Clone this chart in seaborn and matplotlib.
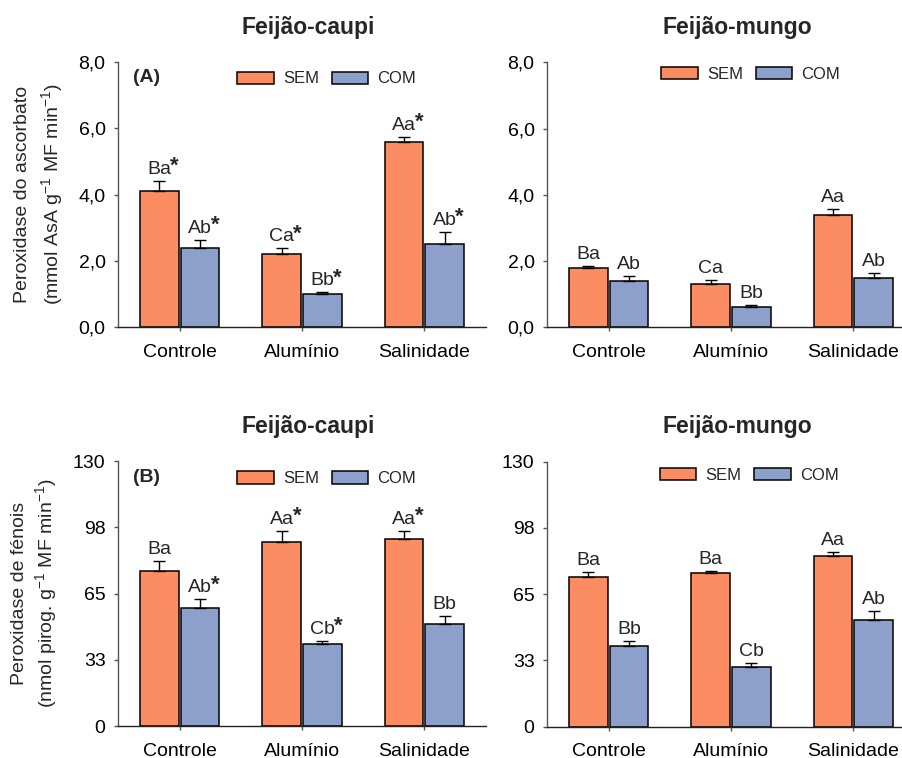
import matplotlib
matplotlib.use("Agg")
import matplotlib.pyplot as plt
from matplotlib.patches import Patch
import seaborn as sns
import pandas as pd

tratamentos = ["Controle", "Alumínio", "Salinidade"]
grupos = ["SEM", "COM"]

# (A) peroxidase do ascorbato - feijão-caupi
apx_caupi_sem = [4.1, 2.2, 5.6]
apx_caupi_com = [2.4, 1.0, 2.5]
apx_caupi_sem_ep = [0.32, 0.18, 0.14]
apx_caupi_com_ep = [0.23, 0.05, 0.37]
apx_caupi_sem_let = ["Ba*", "Ca*", "Aa*"]
apx_caupi_com_let = ["Ab*", "Bb*", "Ab*"]

# (A) peroxidase do ascorbato - feijão-mungo
apx_mungo_sem = [1.8, 1.3, 3.4]
apx_mungo_com = [1.4, 0.6, 1.5]
apx_mungo_sem_ep = [0.04, 0.14, 0.17]
apx_mungo_com_ep = [0.14, 0.07, 0.13]
apx_mungo_sem_let = ["Ba", "Ca", "Aa"]
apx_mungo_com_let = ["Ab", "Bb", "Ab"]

# (B) peroxidase de fenois - feijão-caupi
pox_caupi_sem = [76.1, 90.5, 92.0]
pox_caupi_com = [57.9, 40.2, 50.2]
pox_caupi_sem_ep = [5.0, 5.4, 3.9]
pox_caupi_com_ep = [4.4, 1.6, 3.9]
pox_caupi_sem_let = ["Ba", "Aa*", "Aa*"]
pox_caupi_com_let = ["Ab*", "Cb*", "Bb"]

# (B) peroxidase de fenois - feijão-mungo
pox_mungo_sem = [73.4, 75.6, 83.6]
pox_mungo_com = [39.6, 29.4, 52.3]
pox_mungo_sem_ep = [2.6, 1.0, 2.1]
pox_mungo_com_ep = [2.6, 1.8, 4.7]
pox_mungo_sem_let = ["Ba", "Ba", "Aa"]
pox_mungo_com_let = ["Bb", "Cb", "Ab"]

apx_ticks = [0, 2, 4, 6, 8]
apx_ticklabels = ["0,0", "2,0", "4,0", "6,0", "8,0"]
pox_ticks = [0, 32.5, 65, 97.5, 130]
pox_ticklabels = ["0", "33", "65", "98", "130"]

sns.set_style("ticks")
plt.rcParams.update({
    "font.family": ["Liberation Sans", "DejaVu Sans"],
    "mathtext.default": "regular",
    "axes.linewidth": 1.0,
})

pal = sns.color_palette("Set2")
cores = {"SEM": pal[1], "COM": pal[2]}


def painel(ax, sem, com, sem_ep, com_ep, sem_let, com_let, ticks, ticklabels,
           titulo, leg_pos):
    df = pd.DataFrame({
        "trat": tratamentos * 2,
        "grupo": ["SEM"] * 3 + ["COM"] * 3,
        "valor": sem + com,
    })
    sns.barplot(data=df, x="trat", y="valor", hue="grupo", order=tratamentos,
                hue_order=grupos, palette=cores, width=0.666, gap=0.055,
                errorbar=None, edgecolor="black", linewidth=1.1,
                saturation=1, legend=False, ax=ax)

    barras = sorted(ax.patches, key=lambda p: p.get_x())
    ep = [v for par in zip(sem_ep, com_ep) for v in par]
    let = [v for par in zip(sem_let, com_let) for v in par]
    for b, e, l in zip(barras, ep, let):
        x = b.get_x() + b.get_width() / 2
        h = b.get_height()
        ax.errorbar(x, h, yerr=[[0], [e]], fmt="none", ecolor="black",
                    elinewidth=1, capsize=4, capthick=1)
        t = ax.annotate(l.rstrip("*"), xy=(x, h + e), xytext=(0, 5),
                        textcoords="offset points", ha="center",
                        va="baseline", fontsize=14)
        if l.endswith("*"):
            # asterisco sobrescrito, colado a direita das letras
            ax.annotate("*", xy=(1, 1), xycoords=t, xytext=(-0.8, 3.5),
                        textcoords="offset points", ha="left", va="top",
                        fontsize=16, fontweight="bold")

    ax.set_xlim(-0.505, 2.505)
    ax.set_ylim(ticks[0], ticks[-1])
    ax.set_yticks(ticks, ticklabels)
    ax.set_xlabel("")
    ax.set_ylabel("")
    sns.despine(ax=ax)
    ax.spines["left"].set_color("#555555")
    ax.spines["bottom"].set_color("#222222")
    ax.tick_params(axis="both", labelsize=14, length=3, width=1,
                   color="#555555", labelcolor="black")
    ax.tick_params(axis="x", pad=9)
    ax.tick_params(axis="y", pad=6)

    ax.text(0.517, 1.132, titulo, transform=ax.transAxes, ha="center",
            va="center", fontsize=16.5, fontweight="bold")

    handles = [Patch(facecolor=cores[g], edgecolor="black", linewidth=1.1,
                     label=g) for g in grupos]
    ax.legend(handles=handles, loc="center", bbox_to_anchor=leg_pos, ncol=2,
              frameon=False, fontsize=12, handlelength=2.2, handleheight=0.75,
              handletextpad=0.55, columnspacing=0.75, borderpad=0,
              borderaxespad=0)


fig = plt.figure(figsize=(9.03, 7.58), dpi=100)
ax1 = fig.add_axes([0.1307, 0.5686, 0.4075, 0.3496])
ax2 = fig.add_axes([0.6058, 0.5682, 0.4075, 0.3496])
ax3 = fig.add_axes([0.1307, 0.0422, 0.4075, 0.3492])
ax4 = fig.add_axes([0.6058, 0.0413, 0.4075, 0.3496])

painel(ax1, apx_caupi_sem, apx_caupi_com, apx_caupi_sem_ep, apx_caupi_com_ep,
       apx_caupi_sem_let, apx_caupi_com_let, apx_ticks, apx_ticklabels,
       "Feijão-caupi", (0.567, 0.936))
painel(ax2, apx_mungo_sem, apx_mungo_com, apx_mungo_sem_ep, apx_mungo_com_ep,
       apx_mungo_sem_let, apx_mungo_com_let, apx_ticks, apx_ticklabels,
       "Feijão-mungo", (0.554, 0.955))
painel(ax3, pox_caupi_sem, pox_caupi_com, pox_caupi_sem_ep, pox_caupi_com_ep,
       pox_caupi_sem_let, pox_caupi_com_let, pox_ticks, pox_ticklabels,
       "Feijão-caupi", (0.567, 0.934))
painel(ax4, pox_mungo_sem, pox_mungo_com, pox_mungo_sem_ep, pox_mungo_com_ep,
       pox_mungo_sem_let, pox_mungo_com_let, pox_ticks, pox_ticklabels,
       "Feijão-mungo", (0.549, 0.949))

ax1.text(0.04, 0.94, "(A)", transform=ax1.transAxes, ha="left", va="center",
         fontsize=14, fontweight="bold")
ax3.text(0.04, 0.938, "(B)", transform=ax3.transAxes, ha="left", va="center",
         fontsize=14, fontweight="bold")

ax1.set_ylabel("Peroxidase do ascorbato\n(mmol AsA g$^{-1}$ MF min$^{-1}$)",
               fontsize=14, linespacing=1.45)
ax1.yaxis.set_label_coords(-0.143, 0.5)
ax3.set_ylabel("Peroxidase de fénois\n(nmol pirog. g$^{-1}$ MF min$^{-1}$)",
               fontsize=14, linespacing=1.3)
ax3.yaxis.set_label_coords(-0.16, 0.5)

fig.savefig("out.png", dpi=100)
